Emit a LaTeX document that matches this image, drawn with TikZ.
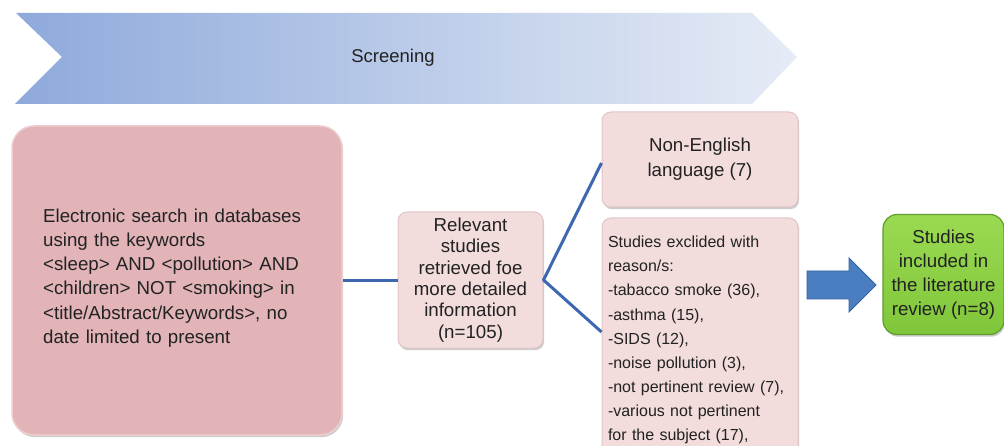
\documentclass[tikz,border=0pt]{standalone}
\usepackage{fontspec}
\setmainfont{Liberation Sans}
\usetikzlibrary{shadows,calc}
\definecolor{chevL}{HTML}{8EA9DB}
\definecolor{chevR}{HTML}{E6ECF6}
\definecolor{pinkD}{HTML}{E2B4B8}
\definecolor{pinkDe}{HTML}{EDCDD0}
\definecolor{pinkL}{HTML}{F2DCDC}
\definecolor{pinkLe}{HTML}{E2C4C6}
\definecolor{greenT}{HTML}{9ADA52}
\definecolor{greenB}{HTML}{80C63A}
\definecolor{greenE}{HTML}{5E9E2C}
\definecolor{arrF}{HTML}{4A7EC1}
\definecolor{arrE}{HTML}{3462A2}
\definecolor{lineC}{HTML}{3D68B0}
\definecolor{txt}{HTML}{222222}
\tikzset{
  shad/.style={drop shadow={shadow xshift=1.2pt, shadow yshift=-2.2pt, opacity=0.28, fill=black!70}},
  bigbox/.style={shad, fill=pinkD, draw=pinkDe, line width=1.5pt, rounded corners=22pt, text=txt, inner sep=0pt},
  smallbox/.style={shad, fill=pinkL, draw=pinkLe, line width=1pt, rounded corners=9pt, text=txt, inner sep=0pt},
  greenbox/.style={shad, top color=greenT, bottom color=greenB, draw=greenE, line width=1.2pt, rounded corners=14pt, text=txt, inner sep=0pt},
  conn/.style={draw=lineC, line width=3pt},
  bigarrow/.style={fill=arrF, draw=arrE, line width=0.8pt},
  big/.style={font=\fontsize{18.7}{24.2}\selectfont},
}
\begin{document}
\begin{tikzpicture}[x=1pt,y=-1pt]
\clip (0,0) rectangle (1004,446);
\fill[white] (0,0) rectangle (1004,446);
% chevron
\shade[left color=chevL, right color=chevR]
  (16,13) -- (752,13) -- (797,57) -- (752,104) -- (15,104) -- (62,57) -- cycle;
\node[text=txt, font=\fontsize{18.5}{22}\selectfont] (screen) at (393,58) {Screening};
% boxes
\node[bigbox, minimum width=330pt, minimum height=309pt] (search) at (177,280.5) {};
\node[text=txt, big, text width=270pt, align=left, inner sep=0pt, anchor=west] (searchtxt) at (43,278)
  {Electronic search in databases\\using the keywords\\<sleep> AND <pollution> AND\\<children> NOT <smoking> in\\<title/Abstract/Keywords>, no\\date limited to present};
\node[smallbox, minimum width=145pt, minimum height=136pt, align=center,
      font=\fontsize{18.7}{21.4}\selectfont] (mid) at (470.5,280)
  {Relevant\\studies\\retrieved foe\\more detailed\\information\\(n=105)};
\node[smallbox, minimum width=196pt, minimum height=95pt, align=center,
      font=\fontsize{18.7}{25}\selectfont] (noneng) at (700,159.5)
  {Non-English\\language (7)};
\node[smallbox, minimum width=196pt, minimum height=244pt, text width=184pt, align=left,
      font=\fontsize{16}{24.1}\selectfont] (excl) at (700,340)
  {Studies exclided with\\reason/s:\\-tabacco smoke (36),\\-asthma (15),\\-SIDS (12),\\-noise pollution (3),\\-not pertinent review (7),\\-various not pertinent\\for the subject (17),};
\node[greenbox, minimum width=121pt, minimum height=120pt, align=center,
      font=\fontsize{18.7}{24}\selectfont] (incl) at (943.5,274.5)
  {Studies\\included in\\the literature\\review (n=8)};
% connectors
\draw[conn] (search.east) -- (search.east -| mid.west);
\draw[conn, line join=round] (noneng.west |- 0,163) -- (mid.east) -- ([yshift=8pt]excl.west);
% block arrow
\draw[bigarrow] (807,271) -- (849,271) -- (849,258) -- (876,285) -- (849,312) -- (849,299) -- (807,299) -- cycle;
\end{tikzpicture}
\end{document}
